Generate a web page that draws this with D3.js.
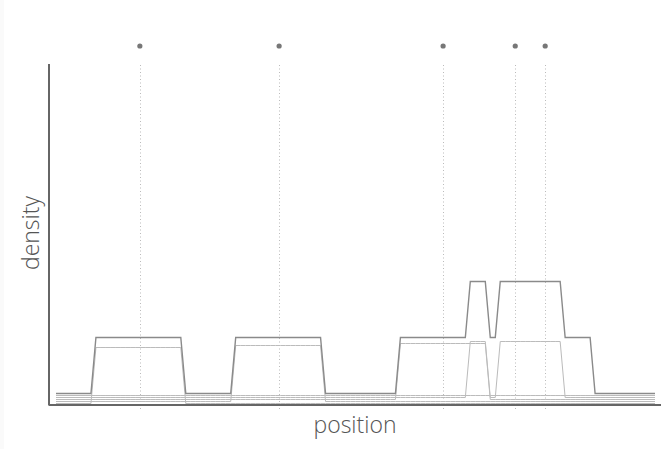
<!DOCTYPE html>
<html>
<head>
<meta charset="utf-8">
<script src="https://cdn.jsdelivr.net/npm/d3@7"></script>
<style>
  html, body { margin: 0; padding: 0; background: #fafafa; }
  svg { display: block; }
  text { font-family: "Open Sans", "Noto Sans", sans-serif; font-weight: 300; fill: #555; }
</style>
</head>
<body>
<div id="chart"></div>
<script>
// observed positions (data units on a 0..120 grid)
var points = [16.8, 44.7, 77.55, 92, 98];
var bandwidth = 9;

// each line: list of kernel groups, a group adds the product of its kernels
var lineNames = ['sum', 'flat', 'overlap', 'k3', 'k2', 'k1'];
var lineTerms = [
    [[0], [1], [2], [3], [4]],
    [],
    [[2, 3], [3, 4]],
    [[2]],
    [[1]],
    [[0]]
];

var width = 671, height = 449;
var grid = d3.range(0, 121);

var svg = d3.select('#chart')
    .append('svg')
    .attr('width', width)
    .attr('height', height);

svg.append('rect')
    .attr('x', 4).attr('y', 0)
    .attr('width', width - 4).attr('height', height)
    .attr('fill', 'white');

var x = d3.scaleLinear().domain([0, 120]).range([56, 655]);
var y = d3.scaleLinear().domain([0, 340 / 56]).range([405, 65]);

function kernel(i, v) {
    return Math.abs(v - points[i]) <= bandwidth ? 1 : 0;
}

function evalLine(terms, v) {
    var s = 0;
    terms.forEach(function (g) {
        var p = 1;
        g.forEach(function (i) { p *= kernel(i, v); });
        s += p;
    });
    return s;
}

// dotted guides and dots
svg.selectAll('.guide')
    .data(points)
    .enter().append('line')
    .attr('class', 'guide')
    .attr('x1', function (d) { return Math.round(x(d)) + 0.5; })
    .attr('x2', function (d) { return Math.round(x(d)) + 0.5; })
    .attr('y1', 65)
    .attr('y2', 410)
    .style('stroke', '#bbb')
    .style('stroke-width', 1)
    .style('stroke-dasharray', '1,2.5');

svg.selectAll('.pt')
    .data(points)
    .enter().append('circle')
    .attr('class', 'pt')
    .attr('cx', function (d) { return x(d); })
    .attr('cy', 46)
    .attr('r', 2.6)
    .style('fill', '#777');

// density lines, each lifted a little above the axis
var line = d3.line()
    .x(function (d) { return x(d.v); })
    .y(function (d) { return y(d.val) - d.off + 0.5; });

var series = lineNames.map(function (name, i) {
    var off = 12 - 2 * i;
    return {
        name: name,
        values: grid.map(function (v) {
            return { v: v, val: evalLine(lineTerms[i], v), off: off };
        })
    };
});

svg.selectAll('.dens')
    .data(series.slice().reverse())
    .enter().append('path')
    .attr('class', 'dens')
    .attr('d', function (d) { return line(d.values); })
    .style('fill', 'none')
    .style('stroke', function (d) { return d.name === 'sum' ? '#8a8a8a' : '#bbb'; })
    .style('stroke-width', function (d) { return d.name === 'sum' ? 1.4 : 1; });

// axes
svg.append('line')
    .attr('x1', 49).attr('x2', 49)
    .attr('y1', 64).attr('y2', 405)
    .style('stroke', '#333')
    .style('stroke-width', 1.5);

svg.append('line')
    .attr('x1', 48.5).attr('x2', 661)
    .attr('y1', 405).attr('y2', 405)
    .style('stroke', '#666')
    .style('stroke-width', 2);

svg.append('text')
    .attr('x', 355)
    .attr('y', 433)
    .attr('text-anchor', 'middle')
    .style('font-size', '23px')
    .text('position');

svg.append('text')
    .attr('transform', 'translate(39,233) rotate(-90)')
    .attr('text-anchor', 'middle')
    .style('font-size', '23px')
    .text('density');
</script>
</body>
</html>
